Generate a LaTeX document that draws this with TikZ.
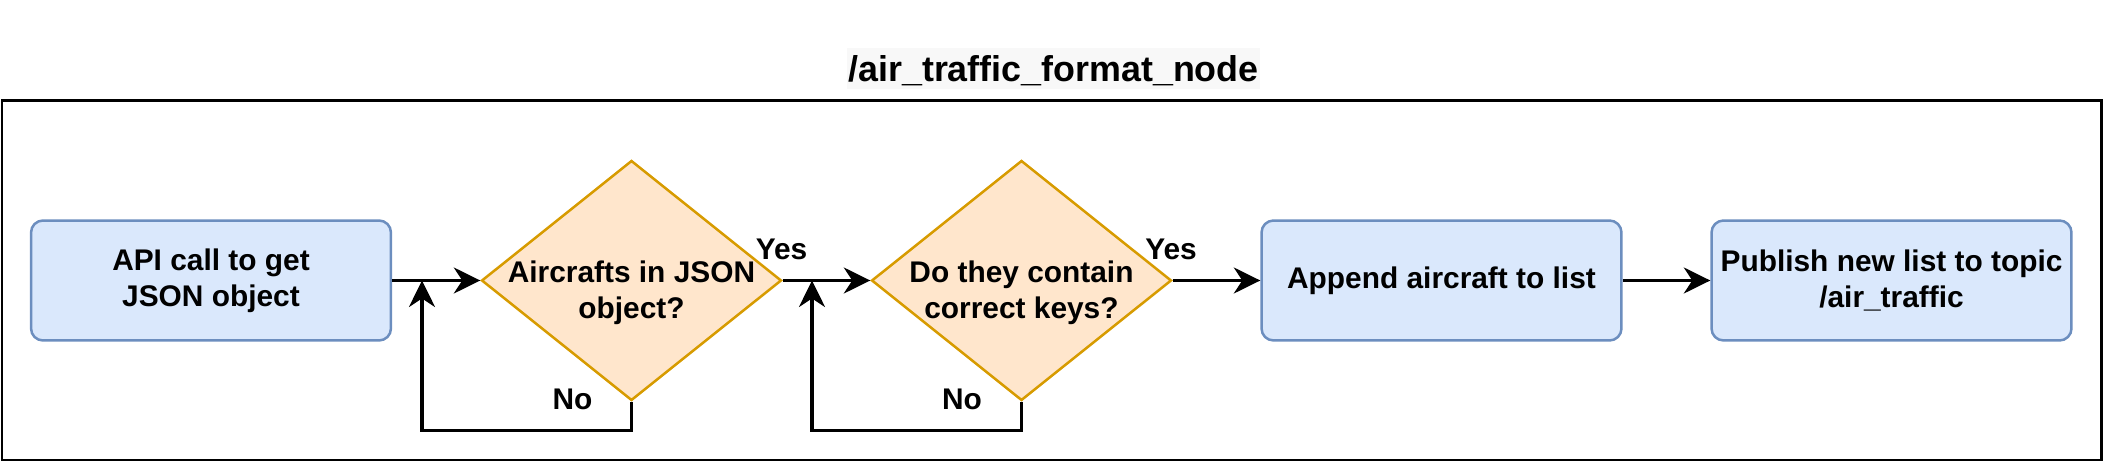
\documentclass[tikz,border=0pt]{standalone}
\usepackage{fontspec}
\setmainfont{Liberation Sans}
\usetikzlibrary{arrows.meta,shapes.geometric}
\definecolor{procfill}{HTML}{DAE8FC}
\definecolor{procline}{HTML}{6C8EBF}
\definecolor{askfill}{HTML}{FFE6CC}
\definecolor{askline}{HTML}{D79B00}
\definecolor{titlebg}{HTML}{F8F8F8}

\begin{document}
\begin{tikzpicture}[
  x=0.02cm, y=-0.02cm,
  proc/.style={draw=procline, fill=procfill, line width=0.05cm, rounded corners=0.24cm,
               minimum width=7.2cm, minimum height=2.4cm, align=center, inner sep=0pt,
               font=\fontsize{17}{20.4}\selectfont\bfseries},
  ask/.style={diamond, aspect=1.25, draw=askline, fill=askfill, line width=0.05cm,
              minimum width=6cm, minimum height=4.8cm, inner sep=0pt},
  asktext/.style={align=center, yshift=-0.24cm, inner sep=0pt,
                  font=\fontsize{17}{20.4}\selectfont\bfseries},
  tag/.style={inner sep=0pt, font=\fontsize{17}{20.4}\selectfont\bfseries},
  flow/.style={-{Stealth[length=0.53cm, width=0.52cm, inset=0.17cm]}, line width=0.065cm}
]
  \useasboundingbox (0,0) rectangle (2103,462);

  % title and frame
  \node[fill=titlebg, minimum width=8.26cm, minimum height=0.82cm, inner sep=0pt, text depth=0pt,
        font=\fontsize{20.4}{24}\selectfont\bfseries] (title) at (1053.5,68.5) {/air\_traffic\_format\_node};
  \draw[line width=0.06cm] (2,101) rectangle (2101,460);

  % steps
  \node[proc] (api)     at (211,280.5)    {API call to get\\JSON object};
  \node[ask, label={[asktext]center:Aircrafts in JSON\\object?}] (hasac)   at (631.5,280.5)  {};
  \node[ask, label={[asktext]center:Do they contain\\correct keys?}] (haskeys) at (1021.5,280.5) {};
  \node[proc] (append)  at (1441.5,280.5) {Append aircraft to list};
  \node[proc] (publish) at (1891.5,280.5) {Publish new list to topic\\/air\_traffic};

  \coordinate (back1) at (422,280.5);
  \coordinate (back2) at (812,280.5);

  \node[tag] (yes1) at (781.5,249) {Yes};
  \node[tag] (yes2) at (1171,249)  {Yes};
  \node[tag] (no1)  at (572.5,399) {No};
  \node[tag] (no2)  at (962,399)   {No};

  \draw[flow] (api)     -- (hasac);
  \draw[flow] (hasac)   -- (haskeys);
  \draw[flow] (haskeys) -- (append);
  \draw[flow] (append)  -- (publish);
  \draw[flow] (hasac.south)   -- ++(0,29) -| (back1);
  \draw[flow] (haskeys.south) -- ++(0,29) -| (back2);
\end{tikzpicture}
\end{document}
